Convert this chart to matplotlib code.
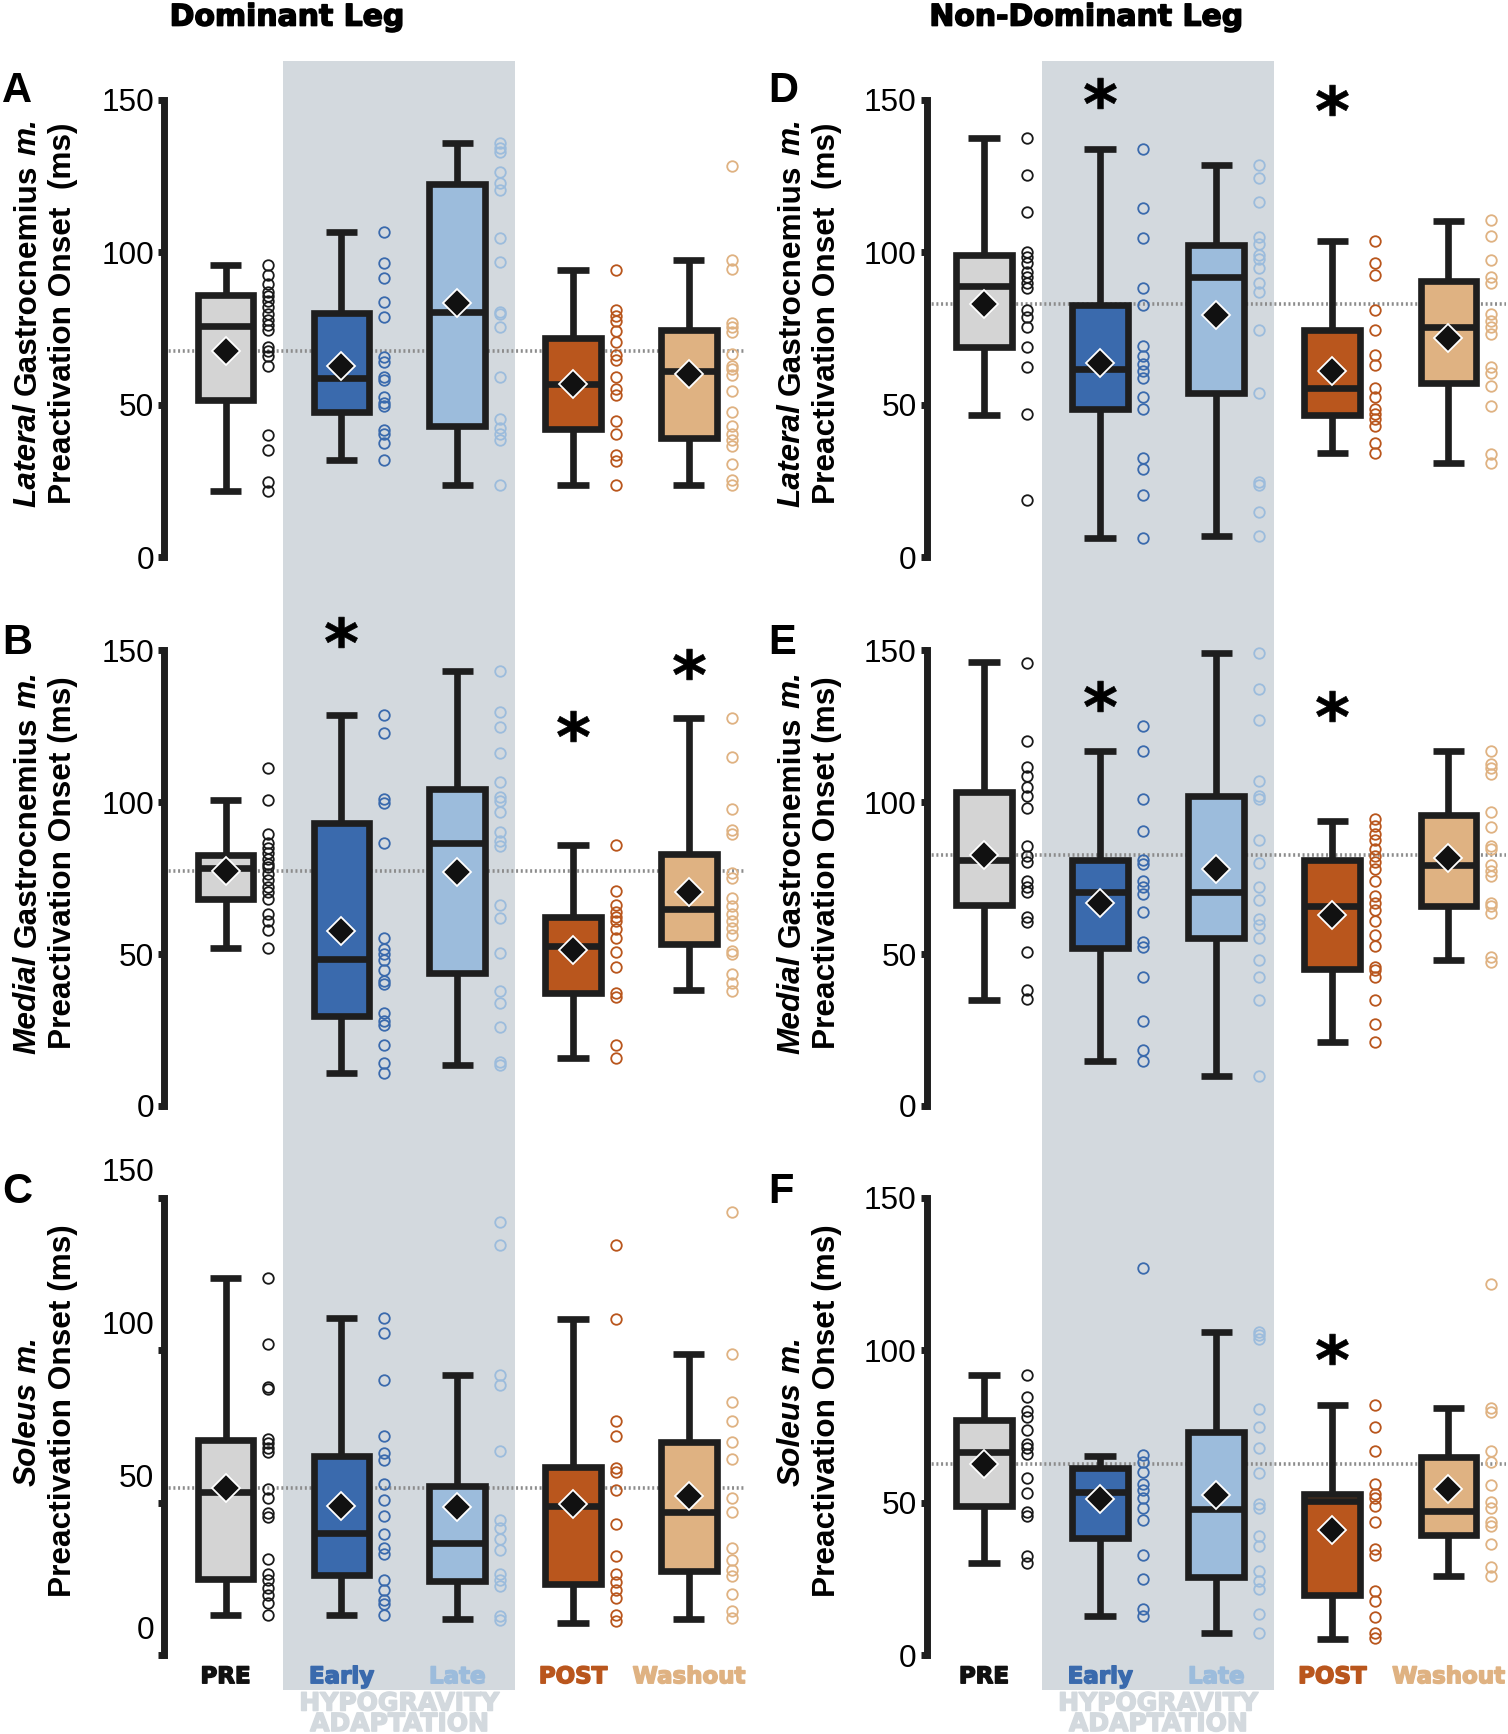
import numpy as np
import matplotlib
matplotlib.use('Agg')
import matplotlib.pyplot as plt
import matplotlib.patheffects as pe
from matplotlib.patches import Rectangle
from matplotlib.transforms import blended_transform_factory, ScaledTranslation
from matplotlib.textpath import TextPath
from matplotlib.path import Path
from matplotlib.font_manager import FontProperties

plt.rcParams['font.family'] = ['Liberation Sans', 'DejaVu Sans']

groups = ['PRE', 'Early', 'Late', 'POST', 'Washout']
fill_colors = ['#d4d4d4', '#3a6aad', '#9cbcdc', '#b9561d', '#dfb282']
dot_colors = ['#1a1a1a', '#3a6aad', '#9cbcdc', '#b9561d', '#dfb282']
label_colors = ['#111111', '#3a6aad', '#9cbcdc', '#b9561d', '#dfb282']

# box stats per group: (whisker low, q1, median, q3, whisker high, mean)
A_box = [(21.7, 51.6, 75.7, 86.1, 95.8, 67.6), (32.0, 47.7, 58.6, 80.0, 106.5, 62.8),
         (23.8, 42.9, 80.3, 122.3, 135.6, 83.3), (23.8, 41.9, 56.8, 71.9, 94.2, 56.8),
         (23.8, 39.0, 61.0, 74.5, 97.5, 60.0)]
B_box = [(51.9, 68.2, 78.3, 82.6, 100.7, 77.3), (10.8, 29.5, 48.4, 93.1, 128.7, 57.5),
         (13.4, 43.7, 86.7, 104.2, 143.2, 77.0), (15.7, 37.1, 52.8, 62.2, 85.9, 51.3),
         (38.3, 53.4, 64.7, 82.9, 127.7, 70.3)]
C_box = [(13.4, 25.1, 53.4, 70.5, 123.6, 54.9), (13.4, 26.4, 40.2, 65.5, 110.6, 49.0),
         (11.8, 24.5, 36.8, 55.6, 91.8, 48.8), (10.5, 23.4, 49.0, 61.8, 110.2, 49.7),
         (11.8, 27.6, 47.1, 70.1, 98.7, 52.3)]
D_box = [(46.7, 68.8, 88.8, 99.0, 137.3, 83.1), (6.3, 48.7, 61.6, 82.7, 133.7, 63.6),
         (6.9, 53.7, 91.8, 102.4, 128.4, 79.3), (34.1, 46.5, 55.6, 74.5, 103.6, 61.0),
         (30.8, 57.1, 75.5, 90.6, 110.3, 71.9)]
E_box = [(34.9, 66.0, 81.0, 103.3, 146.1, 82.7), (14.9, 51.9, 70.4, 81.0, 116.8, 66.9),
         (9.7, 55.2, 70.4, 101.9, 149.1, 78.1), (21.1, 45.2, 65.7, 81.0, 93.9, 63.0),
         (48.1, 65.7, 79.2, 95.7, 116.8, 81.6)]
F_box = [(30.4, 48.9, 66.7, 77.3, 91.8, 62.8), (12.8, 38.6, 53.5, 61.5, 65.4, 51.3),
         (7.3, 25.8, 48.0, 73.1, 106.1, 52.5), (5.3, 19.8, 50.5, 52.9, 82.2, 41.0),
         (26.0, 39.6, 47.2, 65.0, 81.0, 54.6)]

# individual subjects
A_pts = [[95.8, 92.4, 89.4, 87.0, 85.7, 83.9, 82.1, 79.7, 77.9, 76.1, 74.5, 68.8, 67.6, 65.8, 62.8, 40.1, 35.0, 24.8, 21.7],
         [106.5, 96.4, 91.5, 83.6, 78.7, 65.5, 64.0, 59.2, 58.0, 52.5, 50.7, 49.5, 41.7, 40.5, 37.4, 32.0],
         [135.9, 134.1, 132.9, 126.4, 122.8, 120.2, 104.5, 96.6, 80.3, 79.7, 75.5, 59.2, 45.3, 42.3, 40.5, 38.6, 23.8],
         [94.2, 80.9, 79.1, 77.3, 74.3, 70.7, 66.4, 64.6, 59.2, 55.0, 53.1, 44.7, 40.5, 33.6, 31.4, 23.8],
         [128.3, 97.5, 94.4, 76.7, 75.5, 73.7, 66.7, 62.8, 61.6, 59.8, 54.6, 47.7, 42.9, 40.5, 38.6, 36.6, 30.6, 25.4, 23.8]]
B_pts = [[111.2, 100.7, 89.6, 86.7, 84.9, 83.2, 81.4, 79.7, 78.5, 76.4, 74.4, 72.1, 70.3, 68.0, 63.3, 61.0, 57.9, 51.9],
         [128.7, 122.6, 100.9, 99.7, 86.7, 55.4, 51.7, 49.9, 48.2, 44.9, 41.2, 40.0, 30.7, 27.8, 26.6, 19.9, 14.3, 10.8],
         [143.2, 129.6, 124.6, 116.2, 106.5, 101.8, 100.4, 96.6, 90.2, 87.3, 85.5, 66.3, 61.8, 50.5, 37.7, 33.9, 26.0, 14.6, 13.4],
         [85.9, 70.6, 66.3, 63.9, 62.2, 61.0, 58.1, 55.2, 50.7, 45.8, 37.1, 35.9, 19.9, 15.7],
         [127.7, 114.7, 97.7, 90.8, 89.6, 76.8, 75.0, 68.6, 65.7, 63.3, 61.0, 58.7, 56.3, 51.1, 49.9, 43.5, 40.6, 37.7]]
C_pts = [[123.6, 101.9, 87.8, 87.2, 71.0, 69.7, 68.1, 66.8, 54.7, 51.7, 46.8, 45.5, 31.5, 26.7, 24.7, 22.1, 19.7, 17.2, 13.4],
         [110.6, 105.6, 90.4, 71.8, 66.4, 64.2, 56.3, 51.0, 45.7, 39.8, 35.2, 33.3, 24.7, 21.4, 18.1, 16.8, 13.4],
         [142.1, 134.5, 91.8, 88.5, 67.0, 44.4, 41.8, 38.1, 34.6, 26.7, 24.7, 22.7, 12.9, 11.6],
         [134.5, 110.2, 76.9, 71.8, 61.5, 60.2, 54.3, 43.1, 32.6, 26.7, 24.1, 21.4, 18.8, 13.1, 11.3],
         [145.4, 98.7, 83.2, 76.9, 70.1, 64.4, 51.7, 47.1, 35.2, 31.3, 28.0, 26.0, 20.1, 14.5, 12.2]]
D_pts = [[137.3, 125.4, 113.0, 100.2, 98.4, 96.3, 93.6, 91.8, 90.0, 88.2, 80.9, 78.7, 75.5, 68.8, 62.2, 46.9, 18.7],
         [133.7, 114.5, 104.5, 88.2, 82.7, 69.4, 65.8, 63.4, 61.0, 58.6, 52.5, 48.7, 32.6, 29.0, 20.5, 6.3],
         [128.4, 124.4, 116.5, 105.1, 102.7, 99.0, 97.8, 94.8, 90.0, 87.0, 74.5, 53.7, 24.8, 23.6, 14.7, 6.9],
         [103.6, 96.4, 92.4, 80.9, 74.5, 66.4, 63.0, 55.6, 52.5, 48.6, 47.1, 45.3, 42.9, 37.4, 34.1],
         [110.5, 105.4, 97.5, 91.8, 90.0, 79.7, 77.3, 75.5, 73.1, 62.2, 60.4, 56.2, 49.5, 33.8, 30.8]]
E_pts = [[145.9, 120.1, 111.5, 108.6, 105.0, 102.1, 98.2, 85.7, 82.2, 80.4, 73.9, 72.1, 70.4, 62.2, 60.4, 50.7, 38.1, 35.2],
         [125.0, 116.8, 100.9, 90.6, 81.0, 79.8, 73.9, 72.1, 69.8, 64.0, 54.0, 52.2, 42.5, 27.8, 18.5, 14.9],
         [149.1, 137.1, 127.1, 107.0, 102.1, 101.2, 87.4, 80.0, 72.1, 67.8, 61.6, 59.6, 55.4, 47.9, 42.5, 34.9, 9.7],
         [94.5, 92.1, 89.4, 87.4, 84.7, 82.2, 80.4, 78.1, 73.9, 69.2, 66.9, 64.6, 61.0, 56.3, 52.8, 45.8, 44.6, 42.3, 34.9, 27.0, 21.1],
         [116.8, 112.7, 111.2, 109.2, 96.9, 91.8, 85.7, 84.5, 79.2, 77.5, 75.7, 66.9, 65.7, 63.4, 49.1, 47.5]]
F_pts = [[91.8, 84.8, 80.0, 78.0, 74.0, 69.4, 68.1, 66.1, 58.1, 53.1, 46.9, 45.6, 32.6, 30.4],
         [126.9, 65.7, 63.4, 60.1, 56.2, 54.2, 51.5, 48.2, 44.3, 33.0, 25.1, 15.2, 12.8],
         [106.1, 105.1, 103.7, 80.9, 74.9, 68.1, 59.9, 49.6, 48.2, 39.0, 35.7, 27.8, 24.4, 21.8, 13.6, 7.3],
         [82.2, 74.9, 67.0, 56.2, 52.9, 51.5, 48.9, 43.6, 34.8, 33.0, 21.1, 17.8, 12.6, 7.5, 5.6],
         [121.8, 81.0, 79.7, 67.0, 63.4, 55.9, 50.2, 48.2, 43.6, 42.3, 36.6, 29.1, 26.0]]

# significance asterisks: (group index, height)
A_sig = []
B_sig = [(1, 156), (3, 125), (4, 145.5)]
C_sig = []
D_sig = [(1, 152), (3, 150)]
E_sig = [(1, 135), (3, 131.5)]
F_sig = [(3, 100.5)]

# first label line as (word, style) pieces
muscles = [[('Lateral', 'italic'), ('Gastrocnemius', 'normal'), ('m.', 'italic')],
           [('Medial', 'italic'), ('Gastrocnemius', 'normal'), ('m.', 'italic')],
           [('Soleus', 'italic'), ('m.', 'italic')]]
onset_labels = ['Preactivation Onset  (ms)', 'Preactivation Onset (ms)', 'Preactivation Onset (ms)']
letters = [['A', 'B', 'C'], ['D', 'E', 'F']]
col_titles = ['Dominant Leg', 'Non-Dominant Leg']

boxes = [[A_box, B_box, C_box], [D_box, E_box, F_box]]
points = [[A_pts, B_pts, C_pts], [D_pts, E_pts, F_pts]]
sigs = [[A_sig, B_sig, C_sig], [D_sig, E_sig, F_sig]]

# layout (figure fractions)
col_left = [0.1085, 0.6144]
col_width = [0.3864, 0.3842]
row_bottom = [0.6786, 0.3622, 0.0453]
row_height = [0.2640, 0.2628, 0.2640]
xlims = [(-0.535, 4.496), (-0.495, 4.495)]
ylab_x = [(0.0161, 0.0418), (0.5227, 0.5484)]
letter_x = [0.0015, 0.5095]
letter_y = [0.9592, 0.6409, 0.3240]
title_x = [0.1903, 0.7203]
shade = '#d3d9de'
edge = '#1e1e1e'
lab_size = 22.8

tp = TextPath((0, 0), '*', size=1, prop=FontProperties(family='DejaVu Sans', weight='bold'))
v = tp.vertices.copy()
keep = tp.codes != Path.CLOSEPOLY
v -= (v[keep].min(0) + v[keep].max(0)) / 2
v[~keep] = 0
star = Path(v, tp.codes)


def heavy(col):
    return [pe.withStroke(linewidth=1.1, foreground=col)]


fig = plt.figure(figsize=(15.08, 17.34), dpi=100)
renderer = fig.canvas.get_renderer()


def word_label(x, yc, pieces):
    # vertical label built from words that differ in style
    lens = []
    for s, st in pieces:
        t = fig.text(0, 0, s, fontsize=lab_size, fontweight='bold', style=st)
        lens.append(t.get_window_extent(renderer).width)
        t.remove()
    gap = 0.278 * lab_size * fig.dpi / 72
    total = sum(lens) + gap * (len(pieces) - 1)
    px, py = fig.transFigure.transform((x, yc))
    py -= total / 2
    base_x = px + 0.36 * lab_size * fig.dpi / 72
    for (s, st), L in zip(pieces, lens):
        fx, fy = fig.transFigure.inverted().transform((base_x, py))
        fig.text(fx, fy, s, rotation=90, rotation_mode='anchor', ha='left', va='baseline',
                 fontsize=lab_size, fontweight='bold', style=st)
        py += L + gap


for c in range(2):
    axes_col = []
    for r in range(3):
        ax = fig.add_axes([col_left[c], row_bottom[r], col_width[c], row_height[r]])
        ax.set_facecolor('none')
        axes_col.append(ax)
        box = boxes[c][r]
        stats = [dict(whislo=b[0], q1=b[1], med=b[2], q3=b[3], whishi=b[4], mean=b[5], fliers=[])
                 for b in box]
        pos = np.arange(len(groups))
        ax.axhline(box[0][5], color='#8c8c8c', lw=2.6, ls=(0, (0.55, 0.75)), zorder=1)
        bp = ax.bxp(stats, positions=pos, widths=0.48, capwidths=0.27, patch_artist=True,
                    showmeans=True, showfliers=False,
                    boxprops=dict(edgecolor=edge, linewidth=4.8),
                    whiskerprops=dict(color=edge, linewidth=4.8, solid_capstyle='butt'),
                    capprops=dict(color=edge, linewidth=4.8, solid_capstyle='butt'),
                    medianprops=dict(color=edge, linewidth=4.8, solid_capstyle='butt'),
                    meanprops=dict(marker='D', markerfacecolor='#111111', markeredgecolor='white',
                                   markersize=14, markeredgewidth=1.3),
                    zorder=2)
        for patch, fc in zip(bp['boxes'], fill_colors):
            patch.set_facecolor(fc)
        for m in bp['means']:
            m.set_zorder(5)
        for i, p in enumerate(points[c][r]):
            ax.plot(np.full(len(p), i + 0.37), p, 'o', ms=7.6, mfc='none', mec=dot_colors[i],
                    mew=1.3, zorder=3)
        for g, h in sigs[c][r]:
            ax.plot(g, h, marker=star, ms=23, color='k', mec='k', mew=0.5, zorder=6)

        ax.set_xlim(*xlims[c])
        ax.set_ylim(0, 150)
        for art in ax.get_children():
            art.set_clip_on(False)
        for s in ['top', 'right', 'bottom']:
            ax.spines[s].set_visible(False)
        ax.spines['left'].set_linewidth(5)
        ax.spines['left'].set_color(edge)
        ax.spines['left'].set_bounds(0, 150)
        ax.set_yticks([0, 50, 100, 150])
        ax.tick_params(axis='y', length=4, width=5, color=edge, pad=3, labelsize=lab_size)
        if c == 0 and r == 2:
            # tick labels in this panel sit above their ticks
            for lab in ax.get_yticklabels():
                lab.set_transform(lab.get_transform() + ScaledTranslation(0, 20 / 72, fig.dpi_scale_trans))
        if r == 2:
            ax.set_xticks(pos)
            ax.set_xticklabels(groups, family='DejaVu Sans', fontweight='bold', fontsize=16.5)
            for lab, col in zip(ax.get_xticklabels(), label_colors):
                lab.set_color(col)
                lab.set_path_effects(heavy(col))
            ax.tick_params(axis='x', length=0, pad=7)
        else:
            ax.set_xticks([])

        yc = row_bottom[r] + row_height[r] / 2 + 0.009
        word_label(ylab_x[c][0], yc, muscles[r])
        fig.text(ylab_x[c][1], yc, onset_labels[r], rotation=90, ha='center', va='center',
                 fontsize=lab_size, fontweight='bold')
        fig.text(letter_x[c], letter_y[r], letters[c][r], ha='left', va='top',
                 fontsize=30, fontweight='bold')

    # shaded hypogravity band across the whole column
    tr = blended_transform_factory(axes_col[0].transData, fig.transFigure)
    fig.add_artist(Rectangle((0.5, 0.0255), 2.0, 0.9394, transform=tr, facecolor=shade,
                             edgecolor='none', zorder=-5))
    fig.text(1.5, 0.0245, 'HYPOGRAVITY\nADAPTATION', transform=tr, ha='center', va='top',
             family='DejaVu Sans', fontweight='bold', fontsize=18, color=shade, linespacing=0.82,
             path_effects=heavy(shade))
    fig.text(title_x[c], 0.9985, col_titles[c], ha='center', va='top',
             family='DejaVu Sans', fontweight='bold', fontsize=21.5, path_effects=heavy('black'))

fig.savefig('out.png', dpi=100)
